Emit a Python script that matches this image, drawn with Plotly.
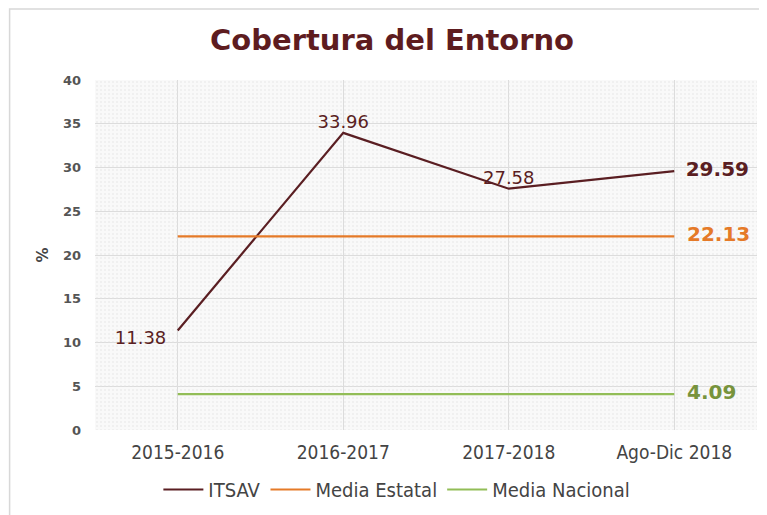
import plotly.graph_objects as go

categories = ["2015-2016", "2016-2017", "2017-2018", "Ago-Dic 2018"]
itsav = [11.38, 33.96, 27.58, 29.59]
media_estatal = [22.13, 22.13, 22.13, 22.13]
media_nacional = [4.09, 4.09, 4.09, 4.09]
y_ticks = [0, 5, 10, 15, 20, 25, 30, 35, 40]
y_max = 40

C_ITSAV = "#5a1e22"
C_EST = "#e57a28"
C_NAC = "#92bd57"
LBL_NAC = "#77933c"
COND = "DejaVu Sans Condensed, Liberation Sans Narrow, sans-serif"

fig = go.Figure()
# dotted plot-area texture
fig.add_trace(go.Bar(
    x=categories, y=[y_max] * len(categories), width=1, showlegend=False, hoverinfo="skip",
    marker=dict(color="rgba(0,0,0,0)", line=dict(width=0),
                pattern=dict(shape=".", fgcolor="#e2e2e2", bgcolor="rgba(0,0,0,0)", size=4, solidity=0.2)),
))
fig.add_trace(go.Scatter(
    x=categories, y=itsav, mode="lines+text", name="ITSAV",
    line=dict(color=C_ITSAV, width=2.2),
    text=[f"{itsav[0]:.2f}  ", f"{itsav[1]:.2f}", f"{itsav[2]:.2f}",
          f"  <b><span style='font-size:20px'>{itsav[3]:.2f}</span></b>"],
    textposition=["bottom left", "top center", "top center", "middle right"],
    textfont=dict(family="DejaVu Sans", size=18, color=C_ITSAV),
))
fig.add_trace(go.Scatter(
    x=categories, y=media_estatal, mode="lines+text", name="Media Estatal",
    line=dict(color=C_EST, width=2.2),
    text=["", "", "", f"  <b>{media_estatal[3]:.2f}</b>"],
    textposition="middle right",
    textfont=dict(family="DejaVu Sans", size=20, color=C_EST),
))
fig.add_trace(go.Scatter(
    x=categories, y=media_nacional, mode="lines+text", name="Media Nacional",
    line=dict(color=C_NAC, width=2.2),
    text=["", "", "", f"  <b>{media_nacional[3]:.2f}</b>"],
    textposition="middle right",
    textfont=dict(family="DejaVu Sans", size=20, color=LBL_NAC),
))

fig.update_layout(
    width=759, height=507,
    margin=dict(l=87, r=10, t=72, b=85, autoexpand=False),
    paper_bgcolor="white",
    plot_bgcolor="#f9f9f9",
    bargap=0,
    title=dict(text="<b>Cobertura del Entorno</b>", x=0.506, xanchor="center", y=0.937, yanchor="middle",
               font=dict(family="DejaVu Sans", size=29, color="#5e1c1f")),
    showlegend=True,
    legend=dict(orientation="h", x=0.456, xanchor="center", y=-0.17, yanchor="middle",
                bgcolor="rgba(0,0,0,0)",
                font=dict(family=COND, size=20, color="#444444"),
                itemwidth=40, tracegroupgap=0),
    xaxis=dict(type="category", range=[-0.5, 3.5], showgrid=True, gridcolor="#dcdcdc", gridwidth=1,
               tickfont=dict(family=COND, size=19, color="#444444"),
               ticks="", showline=False, zeroline=False, ticklabelstandoff=9, automargin=False),
    yaxis=dict(range=[0, y_max], tickvals=y_ticks, showgrid=True, gridcolor="#dcdcdc", gridwidth=1,
               tickfont=dict(family="DejaVu Sans", size=13, color="#555555", weight="bold"),
               ticks="", showline=False, zeroline=False, ticklabelstandoff=13, automargin=False,
               title=dict(text="<b>%</b>", font=dict(family="DejaVu Sans", size=15, color="#444444"), standoff=10)),
    shapes=[dict(type="rect", xref="paper", yref="paper", x0=-0.129, x1=1.3, y0=-0.5, y1=1.203,
                 line=dict(color="#d8d8d8", width=1.5), fillcolor="rgba(0,0,0,0)", layer="below")],
)

fig.write_html("out.html")
